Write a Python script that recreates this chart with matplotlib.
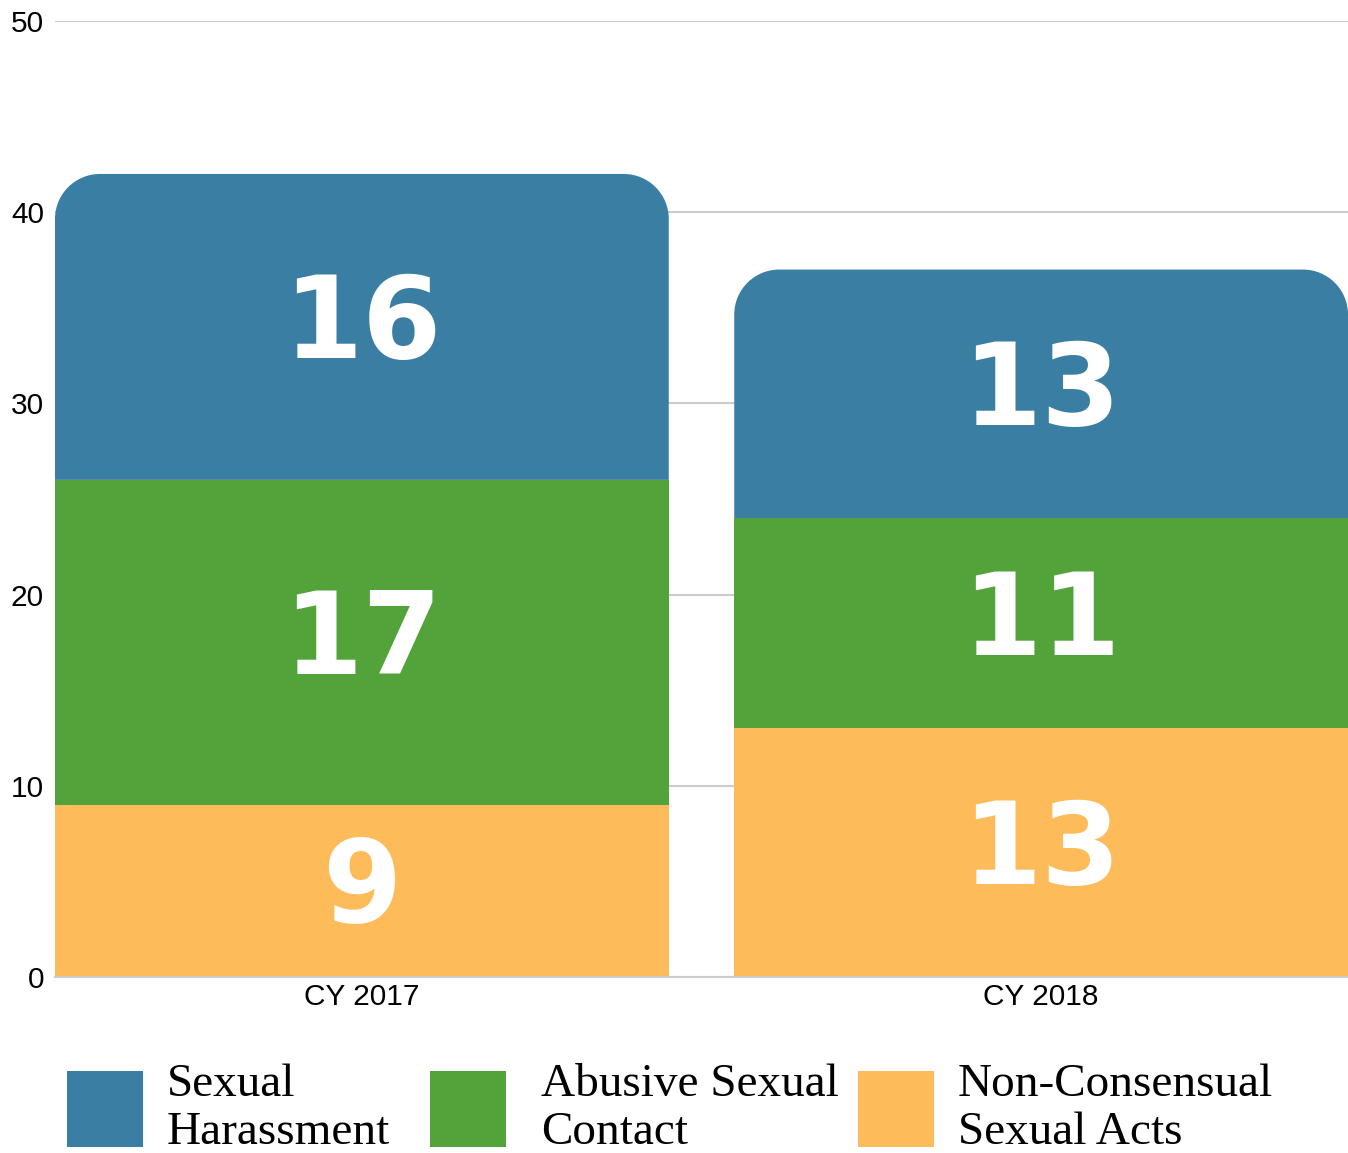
import matplotlib
matplotlib.use("Agg")
import matplotlib.pyplot as plt
from matplotlib.path import Path
from matplotlib.patches import PathPatch, Rectangle
import numpy as np

categories = ["CY 2017", "CY 2018"]
non_consensual = [9, 13]
abusive_contact = [17, 11]
harassment = [16, 13]
series_labels = [["Sexual", "Harassment"], ["Abusive Sexual", "Contact"], ["Non-Consensual", "Sexual Acts"]]
colors = {"harassment": "#3B7EA3", "abusive": "#53A33B", "nonconsensual": "#FDBB5A"}
legend_colors = [colors["harassment"], colors["abusive"], colors["nonconsensual"]]
y_ticks = [0, 10, 20, 30, 40, 50]

W, H = 1348, 1153
fig = plt.figure(figsize=(W/100, H/100), dpi=100)
ax = fig.add_axes([55/W, 1 - 977/H, 1 - 55/W, (977 - 21)/H])

x = np.arange(len(categories))
width = 0.9036
ax.set_xlim(-width/2, len(categories) - 1 + width/2)
ax.set_ylim(0, 50)

ax.bar(x, non_consensual, width, color=colors["nonconsensual"], zorder=2)
ax.bar(x, abusive_contact, width, bottom=non_consensual, color=colors["abusive"], zorder=2)

# pixel scale for rounded corners
fig.canvas.draw()
p0 = ax.transData.transform((0, 0))
p1 = ax.transData.transform((1, 1))
pxx = p1[0] - p0[0]
pxy = p1[1] - p0[1]
r_px = 45
rx = r_px / pxx
ry = r_px / pxy
k = 0.5523

for xi, b, h in zip(x, np.add(non_consensual, abusive_contact), harassment):
    x0, x1 = xi - width/2, xi + width/2
    y0, y1 = b, b + h
    verts = [
        (x0, y0), (x1, y0), (x1, y1 - ry),
        (x1, y1 - ry + k*ry), (x1 - rx + k*rx, y1), (x1 - rx, y1),
        (x0 + rx, y1),
        (x0 + rx - k*rx, y1), (x0, y1 - ry + k*ry), (x0, y1 - ry),
        (x0, y0),
    ]
    codes = [Path.MOVETO, Path.LINETO, Path.LINETO,
             Path.CURVE4, Path.CURVE4, Path.CURVE4,
             Path.LINETO,
             Path.CURVE4, Path.CURVE4, Path.CURVE4,
             Path.CLOSEPOLY]
    ax.add_patch(PathPatch(Path(verts, codes), facecolor=colors["harassment"],
                           edgecolor="none", zorder=2))

# value labels
for xi in x:
    segs = [(0, non_consensual[xi]),
            (non_consensual[xi], abusive_contact[xi]),
            (non_consensual[xi] + abusive_contact[xi], harassment[xi])]
    for b, h in segs:
        ax.text(xi, b + h/2, str(h), ha="center", va="center",
                color="white", fontsize=82, fontweight="bold",
                family="DejaVu Sans", zorder=3)

ax.set_yticks(y_ticks)
ax.set_yticklabels([str(t) for t in y_ticks], family="Liberation Sans", fontsize=21.5)
ax.set_xticks(x)
ax.set_xticklabels(categories, family="Liberation Sans", fontsize=21.5)
ax.tick_params(axis="both", length=0)
ax.tick_params(axis="y", pad=8)
ax.tick_params(axis="x", pad=4)
ax.grid(axis="y", color="#cccccc", linewidth=1.5, zorder=0)
ax.set_axisbelow(True)
for s in ["top", "right", "left"]:
    ax.spines[s].set_visible(False)
ax.spines["bottom"].set_color("#cccccc")
ax.spines["bottom"].set_linewidth(1.5)

# legend (manual, in figure pixel positions)
sq_x = [67, 430, 858]
txt_x = [167, 541, 958]
sq_top, sq_size = 1071, 76
for sx, tx, c, lines in zip(sq_x, txt_x, legend_colors, series_labels):
    fig.patches.append(Rectangle((sx/W, 1 - (sq_top + sq_size)/H), sq_size/W, sq_size/H,
                                 transform=fig.transFigure, facecolor=c, edgecolor="none"))
    for li, line in enumerate(lines):
        fig.text(tx/W, 1 - (1096 + 48*li)/H, line, ha="left", va="baseline",
                 family="Liberation Serif", fontsize=34, color="black")

fig.savefig("out.png", dpi=100)
